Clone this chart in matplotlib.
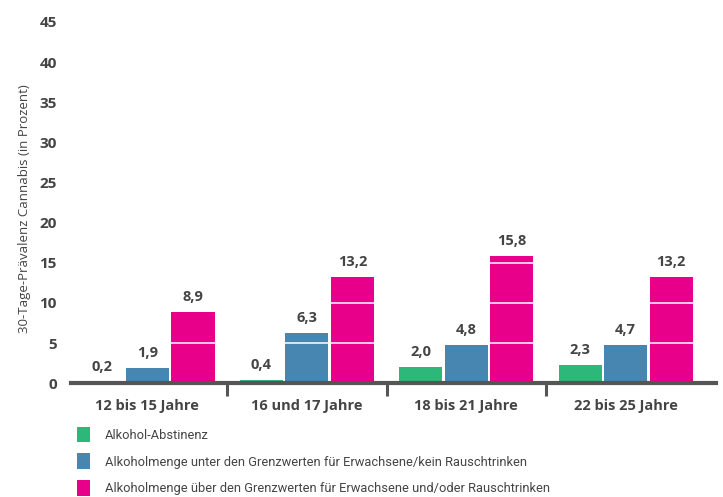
import matplotlib.pyplot as plt
from matplotlib.patches import Patch
import numpy as np

groups = ["12 bis 15 Jahre", "16 und 17 Jahre", "18 bis 21 Jahre", "22 bis 25 Jahre"]
series = [
    "Alkohol-Abstinenz",
    "Alkoholmenge unter den Grenzwerten für Erwachsene/kein Rauschtrinken",
    "Alkoholmenge über den Grenzwerten für Erwachsene und/oder Rauschtrinken",
]
abstinenz = [0.2, 0.4, 2.0, 2.3]
unter = [1.9, 6.3, 4.8, 4.7]
ueber = [8.9, 13.2, 15.8, 13.2]
yticks = [0, 5, 10, 15, 20, 25, 30, 35, 40, 45]


def main():
    plt.rcParams['font.family'] = ['Open Sans', 'DejaVu Sans']
    colors = ["#2db87a", "#4886b2", "#e8008b"]
    text_color = "#444444"

    fig = plt.figure(figsize=(7.23, 4.97), dpi=100)
    ax = fig.add_axes([0.098, 0.229, 0.892, 0.727])

    x = np.arange(len(groups))
    width = 0.27
    offset = 0.286
    for i, (vals, c) in enumerate(zip([abstinenz, unter, ueber], colors)):
        bars = ax.bar(x + (i - 1) * offset, vals, width, color=c, label=series[i], zorder=2)
        for b, v in zip(bars, vals):
            ax.text(b.get_x() + b.get_width() / 2, v + 1.0, f"{v:.1f}".replace(".", ","),
                    ha='center', va='bottom', fontsize=10.5, fontweight='bold',
                    color=text_color, zorder=6)

    # white grid lines over the bars
    for yv in yticks[1:]:
        ax.axhline(yv, color='white', linewidth=1.3, alpha=0.85, zorder=3)

    ax.set_xlim(-0.48, 3.565)
    ax.set_ylim(0, 45)
    ax.set_yticks(yticks)
    ax.set_yticklabels([str(t) for t in yticks], fontsize=11, fontweight='bold', color=text_color)
    ax.tick_params(axis='y', length=0, pad=10)
    ax.set_xticks([0.5, 1.5, 2.5], minor=False)
    ax.set_xticklabels([])
    ax.tick_params(axis='x', length=9, width=2.2, color="#555555", direction='out')
    for xi, g in zip(x, groups):
        ax.text(xi, -2.0, g, ha='center', va='top', fontsize=10.5, fontweight='bold', color=text_color)

    for s in ['top', 'right', 'left']:
        ax.spines[s].set_visible(False)
    ax.spines['bottom'].set_color("#555555")
    ax.spines['bottom'].set_linewidth(3)
    ax.spines['bottom'].set_zorder(4)

    fig.text(0.034, 0.58, "30-Tage-Prävalenz Cannabis (in Prozent)", rotation=90,
             ha='center', va='center', fontsize=9.5, color=text_color)

    handles = [Patch(facecolor=c, edgecolor='none') for c in colors]
    leg = fig.legend(handles, series, loc='upper left', bbox_to_anchor=(0.1, 0.152),
                     frameon=False, handlelength=0.95, handleheight=1.5,
                     handletextpad=1.2, labelspacing=0.85, borderaxespad=0,
                     prop={'family': 'Roboto', 'size': 9.3})
    for t in leg.get_texts():
        t.set_color(text_color)

    fig.savefig("out.png", dpi=100)


if __name__ == "__main__":
    main()
